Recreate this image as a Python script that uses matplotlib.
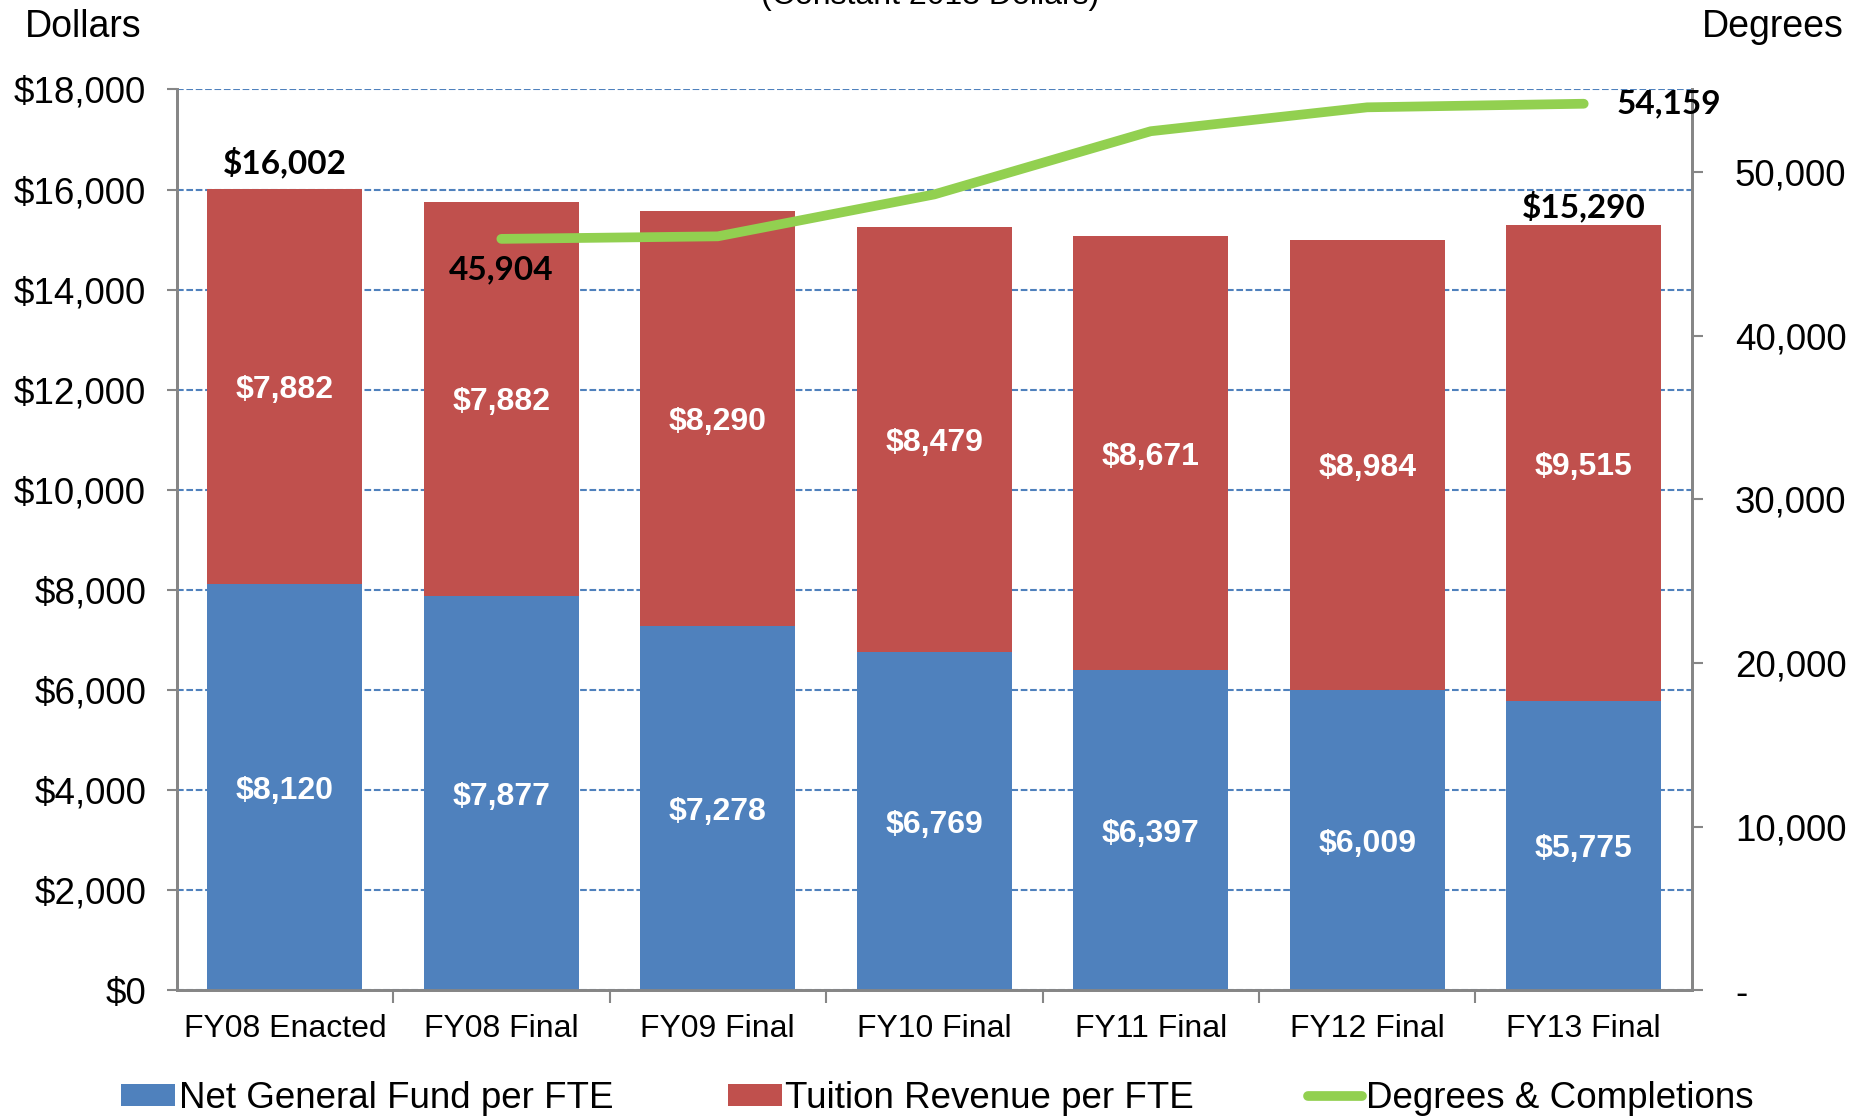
import numpy as np
import matplotlib.pyplot as plt
from matplotlib.ticker import FuncFormatter

# data
categories = ["FY08 Enacted", "FY08 Final", "FY09 Final", "FY10 Final",
              "FY11 Final", "FY12 Final", "FY13 Final"]
general_fund = [8120, 7877, 7278, 6769, 6397, 6009, 5775]
tuition = [7882, 7882, 8290, 8479, 8671, 8984, 9515]
degree_cats = categories[1:]
degrees = [45904, 46060, 48620, 52480, 53940, 54159]

BLUE = "#4F81BD"
RED = "#C0504D"
GREEN = "#92D050"
GRAY = "#868686"

plt.rcParams['font.family'] = ['Liberation Sans', 'DejaVu Sans']
LABEL_FONT = ['Lato', 'DejaVu Sans']

fig = plt.figure(figsize=(18.71, 11.17), dpi=100)
ax = fig.add_axes([0.0944, 0.1133, 0.8099, 0.8066])
ax2 = ax.twinx()

x = np.arange(len(categories))
w = 0.717
b1 = ax.bar(x, general_fund, w, color=BLUE, zorder=3, label="Net General Fund per FTE")
b2 = ax.bar(x, tuition, w, bottom=general_fund, color=RED, zorder=3,
            label="Tuition Revenue per FTE")

# white labels in the segments
for i in range(len(categories)):
    ax.text(x[i], general_fund[i] / 2 - 70, f"${general_fund[i]:,}", ha='center',
            va='center', color='white', fontsize=23, fontweight='bold', zorder=4)
    ax.text(x[i], general_fund[i] + tuition[i] / 2 - 70, f"${tuition[i]:,}", ha='center',
            va='center', color='white', fontsize=23, fontweight='bold', zorder=4)

# totals above first and last bar
totals = np.array(general_fund) + np.array(tuition)
total_idx = [0, len(categories) - 1]
total_off = [540, 380]
for i, off in zip(total_idx, total_off):
    ax.text(x[i], totals[i] + off, f"${totals[i]:,}", ha='center', va='center',
            fontsize=24, fontweight='bold', family=LABEL_FONT, zorder=4)

ax.set_xlim(-0.5, len(categories) - 0.5)
ax.set_ylim(0, 18000)
ax.set_yticks(np.arange(0, 18001, 2000))
ax.yaxis.set_major_formatter(FuncFormatter(lambda v, p: f"${v:,.0f}"))
ax.grid(axis='y', color=BLUE, linestyle=(0, (3.2, 1.3)), linewidth=1.5, zorder=0)
ax.set_axisbelow(True)
ax.set_xticks(x)
ax.set_xticklabels(categories)
ax.set_xticks(np.arange(0.5, len(categories) - 0.5, 1), minor=True)
ax.tick_params(axis='x', which='major', length=0, pad=17, labelsize=23)
ax.tick_params(axis='x', which='minor', length=9, color=GRAY, width=1.5)
ax.tick_params(axis='y', length=7, color=GRAY, width=1.5, labelsize=26.5, pad=15)
ax.spines['top'].set_visible(False)
ax2.spines['top'].set_visible(False)
for s in ['left', 'bottom', 'right']:
    ax.spines[s].set_color(GRAY)
    ax.spines[s].set_linewidth(2)
    ax2.spines[s].set_color(GRAY)
    ax2.spines[s].set_linewidth(2)

# degrees line on the right axis
dx = [categories.index(c) for c in degree_cats]
ax2.plot(dx, degrees, color=GREEN, linewidth=7, solid_capstyle='round',
         solid_joinstyle='round', zorder=5, label="Degrees & Completions")
ax2.set_ylim(0, 55030)
ax2.set_yticks(np.arange(0, 50001, 10000))
ax2.yaxis.set_major_formatter(FuncFormatter(lambda v, p: "-" if v == 0 else f"{v:,.0f}"))
ax2.tick_params(axis='y', length=8, color=GRAY, width=1.5, labelsize=26.5, pad=23)
ax2.text(dx[0], degrees[0] - 1900, f"{degrees[0]:,}", ha='center', va='center',
         fontsize=24, fontweight='bold', family=LABEL_FONT)
ax2.text(dx[-1] + 0.15, degrees[-1], f"{degrees[-1]:,}", ha='left', va='center',
         fontsize=24, fontweight='bold', family=LABEL_FONT)

fig.text(0.0446, 0.976, "Dollars", ha='center', va='center', fontsize=27)
fig.text(0.9474, 0.976, "Degrees", ha='center', va='center', fontsize=27)
fig.text(0.497, 0.9964, "(Constant 2013 Dollars)", ha='center', va='baseline', fontsize=23)

handles = [b1, b2, ax2.get_lines()[0]]
fig.legend(handles, [h.get_label() for h in handles], loc='center',
           bbox_to_anchor=(0.501, 0.0165), ncol=3, frameon=False, fontsize=26.5,
           handlelength=1.47, handleheight=0.55, handletextpad=0.1, columnspacing=3.1)

plt.savefig("out.png", dpi=100)
